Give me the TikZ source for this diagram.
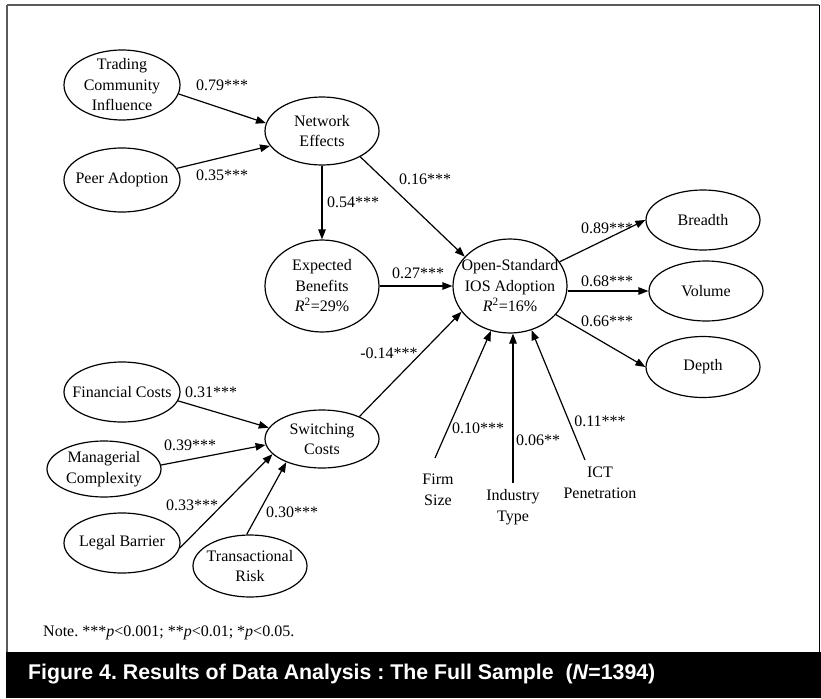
\documentclass[tikz,border=0pt]{standalone}
\usepackage{fontspec}
\setmainfont{Liberation Serif}
\setsansfont{Liberation Sans}
\usetikzlibrary{shapes.geometric,arrows.meta}
\newcommand{\lblfont}{\fontsize{16}{20.5}\selectfont}
\frenchspacing
\begin{document}
\begin{tikzpicture}[x=1pt,y=-1pt,
  ell/.style={ellipse,draw,line width=1.2pt,inner sep=0pt},
  txt/.style={align=center,inner sep=0pt,font=\lblfont},
  coef/.style={inner sep=0pt,font=\lblfont},
  arr/.style={line width=1.2pt,-{Triangle[length=10pt,width=7.5pt]}}]
\fill[white] (0,0) rectangle (821,698);
\useasboundingbox (0,0) rectangle (821,698);
\draw[line width=2pt,color={rgb,255:red,90;green,90;blue,90}] (7,5) -- (819,5);
\draw[line width=2pt,color={rgb,255:red,90;green,90;blue,90}] (7,5) -- (7,652);
\draw[line width=1.5pt,black] (819.5,5) -- (819.5,652);
\fill[black] (6,652) rectangle (821,698);

% ellipses
\node[ell,minimum width=116,minimum height=70,label={[txt]center:{Trading\\Community\\Influence}}] (tci) at (122,85) {};
\node[ell,minimum width=116,minimum height=64,label={[txt]center:{Peer Adoption}}] (pa) at (122,180) {};
\node[ell,minimum width=114,minimum height=68,label={[txt]center:{Network\\Effects}}] (ne) at (322,131) {};
\node[ell,minimum width=114,minimum height=92,label={[txt]center:{Expected\\Benefits\\\textit{R}\textsuperscript{2}=29\%}}] (eb) at (322,286) {};
\node[ell,minimum width=114,minimum height=94,label={[txt]center:{Open-Standard\\IOS Adoption\\\textit{R}\textsuperscript{2}=16\%}}] (osia) at (510,286) {};
\node[ell,minimum width=114,minimum height=60,label={[txt]center:{Breadth}}] (br) at (703,220) {};
\node[ell,minimum width=114,minimum height=60,label={[txt]center:{Volume}}] (vo) at (706,291) {};
\node[ell,minimum width=114,minimum height=61,label={[txt]center:{Depth}}] (de) at (703,367) {};
\node[ell,minimum width=116,minimum height=60,label={[txt]center:{Financial Costs}}] (fc) at (122,392) {};
\node[ell,minimum width=114,minimum height=58,label={[txt]center:{Switching\\Costs}}] (sc) at (322,439) {};
\node[ell,minimum width=114,minimum height=56,label={[txt]center:{Managerial\\Complexity}}] (mc) at (104,469) {};
\node[ell,minimum width=116,minimum height=60,label={[txt]center:{Legal Barrier}}] (lb) at (122,543) {};
\node[ell,minimum width=114,minimum height=62,label={[txt]center:{Transactional\\Risk}}] (tr) at (250,566) {};

% control variables
\node[txt] (firm) at (438,490) {Firm\\Size};
\node[txt] (ind) at (513,507) {Industry\\Type};
\node[txt] (ict) at (600,483) {ICT\\Penetration};
\coordinate (ft) at (435,458);
\coordinate (it) at (513,483);
\coordinate (ct) at (585,460);

% arrows
\draw[arr] (tci.-9) -- (ne.172);
\draw[arr] (pa.12) -- (ne.196);
\draw[arr] (ne.south) -- (eb.north);
\draw[arr] (ne.-34) -- (osia.147);
\draw[arr] (eb.east) -- (osia.west);
\draw[arr] (sc.31) -- (osia.208);
\draw[arr] (osia.26) -- (br.west);
\draw[arr] (osia.east |- vo.west) -- (vo.west);
\draw[arr] (osia.-32) -- (de.west);
\draw[arr] (fc.-9) -- (sc.168);
\draw[arr] (mc.4) -- (sc.186);
\draw[arr] (lb.-5) -- (sc.197);
\draw[arr] (tr.96) -- (sc.213);
\draw[arr] (ft) -- (osia.247);
\draw[arr] (it) -- (it |- osia.south);
\draw[arr] (ct) -- (osia.296);

% coefficients
\node[coef] (l79) at (222,85) {0.79***};
\node[coef] (l35) at (222,175) {0.35***};
\node[coef] (l54) at (353,202) {0.54***};
\node[coef] (l16) at (425,179) {0.16***};
\node[coef] (l27) at (418,273) {0.27***};
\node[coef] (l14) at (389,353) {-0.14***};
\node[coef] (l89) at (607,228) {0.89***};
\node[coef] (l68) at (607,281) {0.68***};
\node[coef] (l66) at (607,321) {0.66***};
\node[coef] (l31) at (211,392) {0.31***};
\node[coef] (l39) at (190,445) {0.39***};
\node[coef] (l33) at (192,505) {0.33***};
\node[coef] (l30) at (292,512) {0.30***};
\node[coef] (l10) at (478,428) {0.10***};
\node[coef] (l06) at (538,440) {0.06**};
\node[coef] (l11) at (600,421) {0.11***};

% note and caption
\node[coef,anchor=west] (note) at (43,633) {Note. ***\textit{p}<0.001; **\textit{p}<0.01; *\textit{p}<0.05.};
\node[anchor=west,inner sep=0pt,text=white,font=\sffamily\bfseries\fontsize{21.3}{24}\selectfont] (cap) at (28,674) {Figure 4. Results of Data Analysis : The Full Sample \ (\textit{N}=1394)};
\end{tikzpicture}
\end{document}
